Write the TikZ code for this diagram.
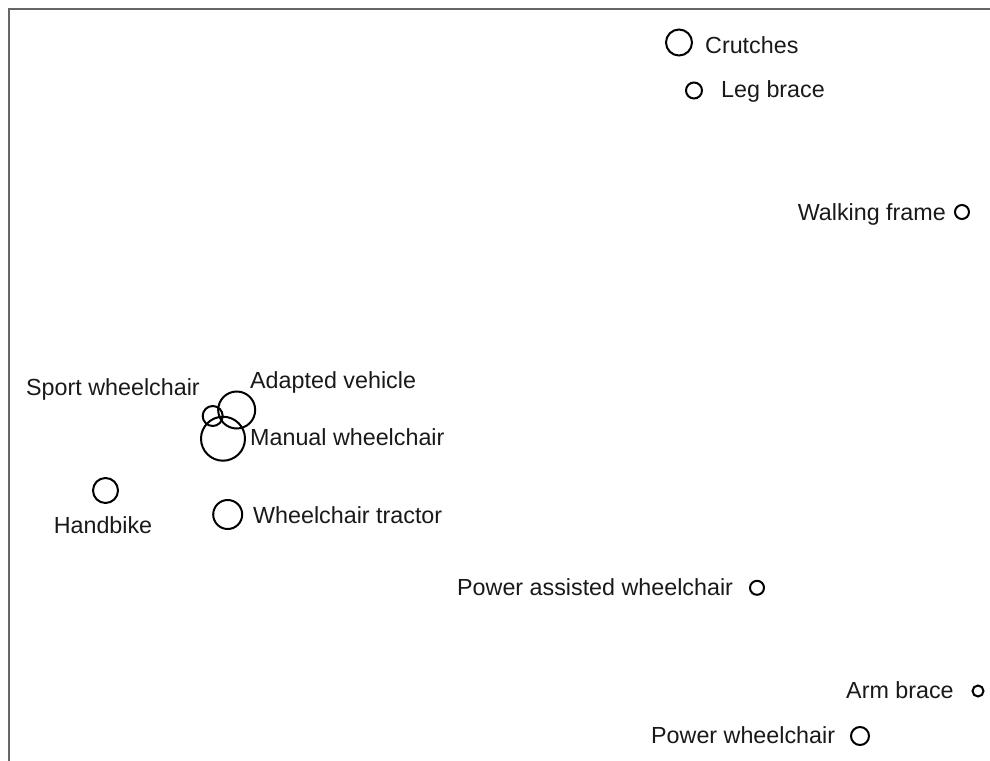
\documentclass[tikz,border=0pt]{standalone}
\usepackage{fontspec}
\setmainfont{Liberation Sans}
\begin{document}
\begin{tikzpicture}[x=1pt,y=-1pt,
  dot/.style={circle,draw=black,line width=2pt,inner sep=0pt,minimum size=#1},
  lbl/.style={inner sep=0pt,font=\fontsize{23.3}{27}\selectfont,text=black!90}]
\useasboundingbox (0,0) rectangle (990,760);
\draw[line width=2pt,draw=black!60] (9,770) -- (9,9.5) -- (1000,9.5);
% circles
\node[dot=26pt] (cr) at (679,42.5) {};
\node[dot=16pt] (lb) at (694,90.5) {};
\node[dot=14pt] (wf) at (962,212) {};
\node[dot=20pt] (sw) at (212.7,416) {};
\node[dot=37pt] (av) at (236.7,410) {};
\node[dot=44pt] (mw) at (223,438.7) {};
\node[dot=25pt] (hb) at (105.5,490.5) {};
\node[dot=29pt] (wt) at (227.7,514.5) {};
\node[dot=14pt] (pa) at (757,587.8) {};
\node[dot=11pt] (ab) at (978,691) {};
\node[dot=18pt] (pw) at (860,736) {};
% labels
\node[lbl,anchor=base west] (tcr) at (705,53) {Crutches};
\node[lbl,anchor=base west] (tlb) at (721,97) {Leg brace};
\node[lbl,anchor=base east] (twf) at (946,220) {Walking frame};
\node[lbl,anchor=base west] (tsw) at (26,395) {Sport wheelchair};
\node[lbl,anchor=base west] (tav) at (250,388) {Adapted vehicle};
\node[lbl,anchor=base west] (tmw) at (250,445) {Manual wheelchair};
\node[lbl,anchor=base] (thb) at (103,533) {Handbike};
\node[lbl,anchor=base west] (twt) at (253,523) {Wheelchair tractor};
\node[lbl,anchor=base west] (tpa) at (457,595) {Power assisted wheelchair};
\node[lbl,anchor=base west] (tab) at (846,698) {Arm brace};
\node[lbl,anchor=base west] (tpw) at (651,743) {Power wheelchair};
\end{tikzpicture}
\end{document}
